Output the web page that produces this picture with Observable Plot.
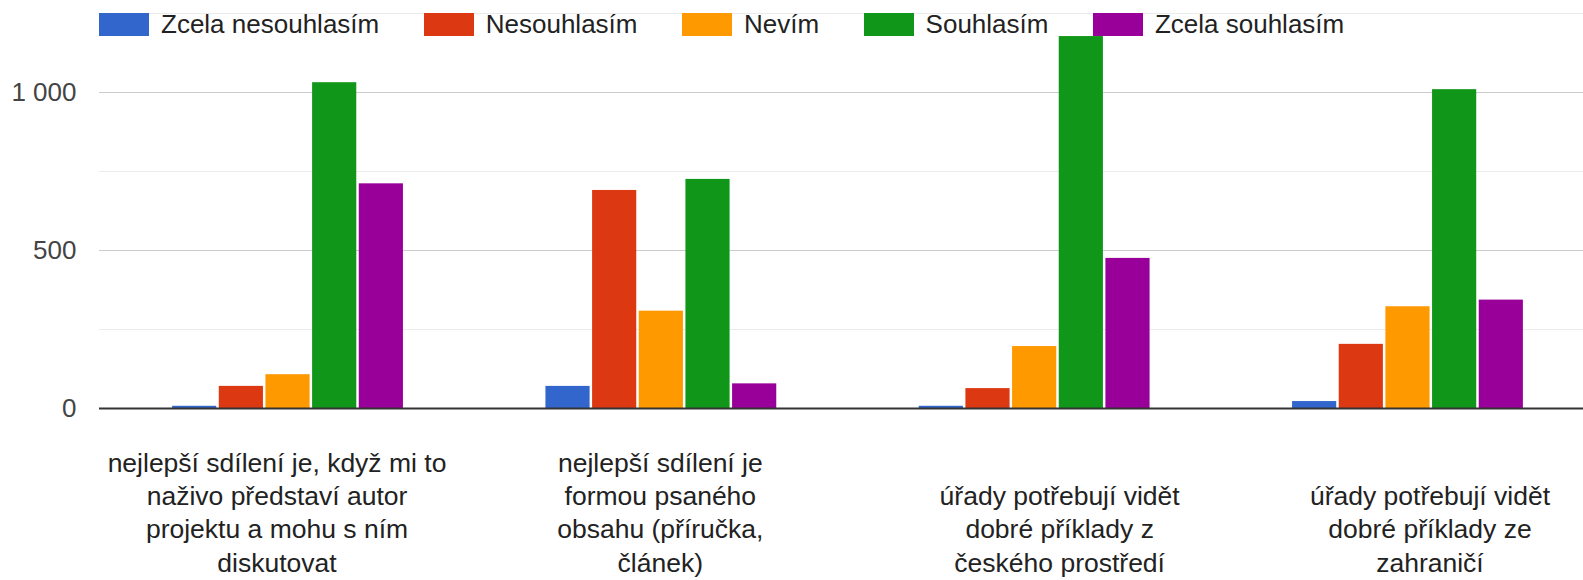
<!DOCTYPE html>
<html>
<head>
<meta charset="utf-8">
<script src="https://cdn.jsdelivr.net/npm/d3@7"></script>
<script src="https://cdn.jsdelivr.net/npm/@observablehq/plot@0.6"></script>
<style>
  html, body { margin: 0; padding: 0; background: #fff; overflow: hidden; }
  #wrap { position: relative; width: 1583px; height: 580px; overflow: hidden;
          font-family: "Liberation Sans", Arial, sans-serif; }
  #chart svg { max-width: none !important; }
  #legend { position: absolute; left: 99px; top: 13px; display: flex; align-items: center;
            font-size: 26px; line-height: 23px; color: #222; white-space: nowrap; }
  .item { display: flex; align-items: center; margin-right: 44.5px; }
  .sw { width: 50px; height: 23px; margin-right: 12px; }
</style>
</head>
<body>
<div id="wrap"><div id="chart"></div><div id="legend"></div></div>
<script>
// ---- data ----
const categories = [
  "nejlepší sdílení je, když mi to naživo představí autor projektu a mohu s ním diskutovat",
  "nejlepší sdílení je formou psaného obsahu (příručka, článek)",
  "úřady potřebují vidět dobré příklady z českého prostředí",
  "úřady potřebují vidět dobré příklady ze zahraničí"
];
const categoryLabels = [
  "nejlepší sdílení je, když mi to\nnaživo představí autor\nprojektu a mohu s ním\ndiskutovat",
  "nejlepší sdílení je\nformou psaného\nobsahu (příručka,\nčlánek)",
  "úřady potřebují vidět\ndobré příklady z\nčeského prostředí",
  "úřady potřebují vidět\ndobré příklady ze\nzahraničí"
];
const series = ["Zcela nesouhlasím", "Nesouhlasím", "Nevím", "Souhlasím", "Zcela souhlasím"];
const zcelaNesouhlasim = [7, 70, 7, 22];
const nesouhlasim      = [70, 690, 63, 203];
const nevim            = [107, 308, 196, 322];
const souhlasim        = [1031, 725, 1177, 1009];
const zcelaSouhlasim   = [711, 78, 475, 343];
const yTicks = [0, 500, 1000];
const majorGrid = [500, 1000];
const minorGrid = [250, 750, 1250];

// ---- styling / layout ----
const colors = ["#3366cc", "#dc3912", "#ff9900", "#109618", "#990099"];
const labelNudge = [-11, -1, 25, 22];
const font = "Liberation Sans, Arial, sans-serif";

// ---- build table ----
const seriesValues = [zcelaNesouhlasim, nesouhlasim, nevim, souhlasim, zcelaSouhlasim];
const rows = [];
const xDomain = [];
categories.forEach((c, i) => {
  if (i > 0) for (let k = 0; k < 3; k++) xDomain.push(`gap${i}-${k}`);
  series.forEach((s, j) => {
    const key = `${i}|${s}`;
    xDomain.push(key);
    rows.push({key, category: c, series: s, value: seriesValues[j][i]});
  });
});
const labelRows = categories.map((c, i) => ({key: `${i}|${series[2]}`, label: categoryLabels[i]}));

const fmt = d => d3.format(",")(d).replace(/,/g, " ");

const chart = Plot.plot({
  width: 1600,
  height: 580,
  marginLeft: 99,
  marginRight: 4,
  marginTop: 13,
  marginBottom: 172,
  style: {fontFamily: font, fontSize: "26px", background: "transparent", overflow: "visible", maxWidth: "none"},
  x: {type: "band", domain: xDomain, paddingInner: 0, paddingOuter: 1.54, round: false, axis: null},
  y: {domain: [0, 1250], axis: null},
  color: {domain: series, range: colors},
  marks: [
    Plot.ruleY(minorGrid, {stroke: "#ebebeb", strokeWidth: 1}),
    Plot.ruleY(majorGrid, {stroke: "#cccccc", strokeWidth: 1}),
    Plot.barY(rows, {x: "key", y: "value", fill: "series", insetLeft: 1.25, insetRight: 1.25}),
    Plot.ruleY([0], {stroke: "#333333", strokeWidth: 2}),
    Plot.axisY(yTicks, {tickSize: 0, tickPadding: 23, tickFormat: fmt, fontSize: 26, color: "#444", label: null}),
    ...labelRows.map((r, i) => Plot.text([r], {
      x: "key", text: "label", frameAnchor: "bottom", lineAnchor: "bottom",
      dy: 163, dx: labelNudge[i], lineHeight: 1.25, fontSize: 26.5, fill: "#222"
    }))
  ]
});
document.getElementById("chart").appendChild(chart);

// ---- legend ----
const legend = document.getElementById("legend");
series.forEach((s, j) => {
  const item = document.createElement("div");
  item.className = "item";
  const sw = document.createElement("div");
  sw.className = "sw";
  sw.style.background = colors[j];
  const t = document.createElement("span");
  t.textContent = s;
  item.appendChild(sw);
  item.appendChild(t);
  legend.appendChild(item);
});
</script>
</body>
</html>
